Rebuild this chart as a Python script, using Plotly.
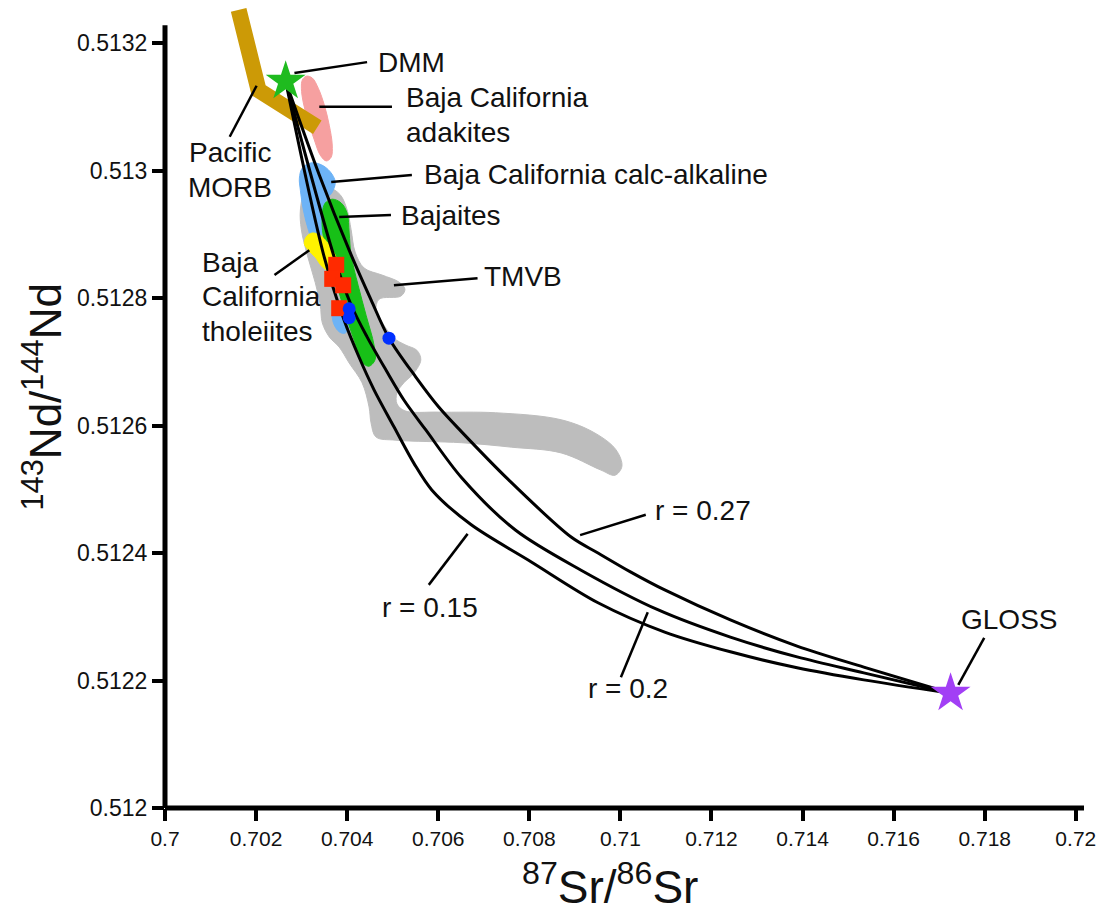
import plotly.graph_objects as go

# ---- end members -------------------------------------------------------
dmm_sr, dmm_nd = 0.70265, 0.51314
gloss_sr, gloss_nd = 0.71725, 0.51218

# ---- DMM–GLOSS mixing hyperbolae (87Sr/86Sr, 143Nd/144Nd) --------------
mix_r015_sr = [0.70265, 0.703497, 0.703934, 0.704262, 0.70459, 0.705027, 0.705464, 0.705858,
               0.70671, 0.708044, 0.709508, 0.710973, 0.712415, 0.71388, 0.715344, 0.71725]
mix_r015_nd = [0.51314, 0.512864, 0.512765, 0.512707, 0.512656, 0.512598, 0.512541, 0.512499,
               0.512445, 0.512386, 0.512322, 0.512276, 0.512245, 0.51222, 0.512201, 0.51218]

mix_r020_sr = [0.70265, 0.703716, 0.704087, 0.704437, 0.704852, 0.705246, 0.705727, 0.706514,
               0.707694, 0.709137, 0.71082, 0.712415, 0.71388, 0.715344, 0.71725]
mix_r020_nd = [0.51314, 0.512864, 0.512789, 0.512739, 0.512687, 0.51264, 0.512593, 0.512518,
               0.512436, 0.512373, 0.512311, 0.512268, 0.512237, 0.512212, 0.51218]

mix_r027_sr = [0.70265, 0.703388, 0.704044, 0.704525, 0.704918, 0.705508, 0.706011, 0.706514,
               0.707541, 0.708918, 0.709508, 0.71023, 0.710973, 0.712415, 0.71388, 0.715344, 0.71725]
mix_r027_nd = [0.51314, 0.512993, 0.512875, 0.512797, 0.512737, 0.512676, 0.512629, 0.51259,
               0.512515, 0.512425, 0.5124, 0.51237, 0.512342, 0.512295, 0.512254, 0.512221, 0.51218]

# ---- compositional fields ---------------------------------------------
morb_sr = [0.701617, 0.702055, 0.703344]
morb_nd = [0.513252, 0.513126, 0.513068]

tmvb_sr = [0.70306, 0.703344, 0.703607, 0.703847, 0.704, 0.704087, 0.704175, 0.704372, 0.704765,
           0.705137, 0.705268, 0.70518, 0.704699, 0.704634, 0.704765, 0.705027, 0.70529, 0.70553,
           0.705617, 0.705464, 0.705246, 0.705093, 0.705093, 0.705268, 0.706011, 0.707257, 0.708699,
           0.709443, 0.709902, 0.710033, 0.70988, 0.709574, 0.708699, 0.707607, 0.706514, 0.705071,
           0.704634, 0.704525, 0.704481, 0.704328, 0.704044, 0.703825, 0.703607, 0.703454, 0.70341,
           0.7033, 0.703126, 0.702995, 0.702973]
tmvb_nd = [0.512962, 0.512971, 0.512973, 0.512962, 0.512938, 0.512907, 0.512872, 0.512847, 0.512836,
           0.512825, 0.512814, 0.512803, 0.512798, 0.51278, 0.512762, 0.512737, 0.512726, 0.512718,
           0.512703, 0.512682, 0.512667, 0.512651, 0.512634, 0.512623, 0.512621, 0.51262, 0.512609,
           0.512588, 0.512562, 0.512536, 0.512522, 0.51253, 0.512557, 0.512566, 0.512573, 0.512577,
           0.512582, 0.512604, 0.512629, 0.512667, 0.512698, 0.512723, 0.512739, 0.512761, 0.512789,
           0.512824, 0.512867, 0.512907, 0.512938]

calc_alk_sr = [0.703016, 0.703213, 0.703432, 0.703628, 0.703738, 0.703672, 0.703541, 0.703475,
               0.703432, 0.703279, 0.703148, 0.703038, 0.702973, 0.702951]
calc_alk_nd = [0.513004, 0.513012, 0.513009, 0.512998, 0.512982, 0.512966, 0.512954, 0.51293,
               0.512899, 0.512883, 0.512907, 0.512938, 0.512969, 0.512988]

calc_alk2_sr = [0.703694, 0.704, 0.704087, 0.703956, 0.703825, 0.703694]
calc_alk2_nd = [0.512781, 0.512784, 0.512765, 0.512745, 0.512747, 0.512762]

bajaite_sr = [0.703672, 0.703869, 0.704, 0.704044, 0.704087, 0.70424, 0.704415, 0.70459, 0.704612,
              0.704481, 0.70435, 0.704153, 0.703934, 0.70376, 0.703607, 0.703475, 0.703454, 0.703519]
bajaite_nd = [0.512955, 0.512949, 0.512933, 0.512902, 0.512867, 0.51282, 0.512773, 0.512726, 0.512703,
              0.512693, 0.512698, 0.512734, 0.512781, 0.512825, 0.512863, 0.512897, 0.512933, 0.512949]

tholeiite_sr = [0.703104, 0.703235, 0.703432, 0.70365, 0.70376, 0.703628, 0.703454, 0.7033,
                0.703148, 0.70306]
tholeiite_nd = [0.512896, 0.512902, 0.512897, 0.512878, 0.51286, 0.512842, 0.512849, 0.512864,
                0.512875, 0.512885]

adakite_sr = [0.703104, 0.703235, 0.703366, 0.703497, 0.703607, 0.703672, 0.70365, 0.703541,
              0.70341, 0.703279, 0.703148, 0.703038, 0.702995, 0.703016]
adakite_nd = [0.513148, 0.513145, 0.513129, 0.513103, 0.513071, 0.51304, 0.513021, 0.513015,
              0.513024, 0.513048, 0.513076, 0.513106, 0.513129, 0.513142]

# ---- individual samples ------------------------------------------------
red_sr = [0.70376, 0.703672, 0.703913, 0.703825]
red_nd = [0.512852, 0.51283, 0.51282, 0.512784]
blue_sr = [0.704044, 0.704044, 0.704918]
blue_nd = [0.512783, 0.512769, 0.512737]

# ---- axes --------------------------------------------------------------
x_min, x_max = 0.7, 0.72018
y_min, y_max = 0.512, 0.5132596
y_axis_top = 0.513228
x_ticks = [0.7, 0.702, 0.704, 0.706, 0.708, 0.71, 0.712, 0.714, 0.716, 0.718, 0.72]
x_tick_text = ["0.7", "0.702", "0.704", "0.706", "0.708", "0.71", "0.712", "0.714", "0.716", "0.718", "0.72"]
y_ticks = [0.512, 0.5122, 0.5124, 0.5126, 0.5128, 0.513, 0.5132]
y_tick_text = ["0.512", "0.5122", "0.5124", "0.5126", "0.5128", "0.513", "0.5132"]

SANS = "Liberation Sans, Arial, sans-serif"
LABEL_FONT = dict(family=SANS, size=28, color="#111111")

fig = go.Figure()


def field(xs, ys, color):
    fig.add_trace(go.Scatter(x=xs + xs[:1], y=ys + ys[:1], mode="lines", fill="toself",
                             fillcolor=color, line=dict(color=color, width=1, shape="spline", smoothing=1.0),
                             hoverinfo="skip", showlegend=False))


field(tmvb_sr, tmvb_nd, "#bdbdbd")
field(calc_alk_sr, calc_alk_nd, "#6db3f6")
field(calc_alk2_sr, calc_alk2_nd, "#6db3f6")
field(bajaite_sr, bajaite_nd, "#17c017")
field(tholeiite_sr, tholeiite_nd, "#fff200")
field(adakite_sr, adakite_nd, "#f6a0a0")

# Pacific MORB array
fig.add_trace(go.Scatter(x=morb_sr, y=morb_nd, mode="lines",
                         line=dict(color="#cc9a06", width=16), hoverinfo="skip", showlegend=False))

# mixing curves
for xs, ys in [(mix_r015_sr, mix_r015_nd), (mix_r020_sr, mix_r020_nd), (mix_r027_sr, mix_r027_nd)]:
    fig.add_trace(go.Scatter(x=xs, y=ys, mode="lines",
                             line=dict(color="black", width=3, shape="spline", smoothing=0.9),
                             hoverinfo="skip", showlegend=False))

# leader lines: (x0, y0, x1, y1)
leaders = [
    (0.702842, 0.513153, 0.704437, 0.51317),   # DMM
    (0.703388, 0.5131, 0.704984, 0.5131),      # adakites
    (0.70365, 0.512982, 0.705421, 0.512993),   # calc-alkaline
    (0.703825, 0.512927, 0.704962, 0.51293),   # Bajaites
    (0.705027, 0.51282, 0.706863, 0.512831),   # TMVB
    (0.701421, 0.513053, 0.702011, 0.513133),  # Pacific MORB
    (0.702404, 0.512836, 0.703169, 0.512875),  # tholeiites
    (0.709115, 0.512428, 0.710557, 0.51246),   # r = 0.27
    (0.706645, 0.51243, 0.705792, 0.51235),    # r = 0.15
    (0.710601, 0.512307, 0.710011, 0.512205),  # r = 0.2
    (0.717989, 0.512267, 0.71742, 0.512193),   # GLOSS
]
for x0, y0, x1, y1 in leaders:
    fig.add_trace(go.Scatter(x=[x0, x1], y=[y0, y1], mode="lines",
                             line=dict(color="black", width=2.5), hoverinfo="skip", showlegend=False))

fig.add_trace(go.Scatter(x=red_sr, y=red_nd, mode="markers",
                         marker=dict(symbol="square", size=16, color="#ff2a00", line=dict(width=0)),
                         hoverinfo="skip", showlegend=False))
fig.add_trace(go.Scatter(x=blue_sr, y=blue_nd, mode="markers",
                         marker=dict(symbol="circle", size=13, color="#0030ff", line=dict(width=0)),
                         hoverinfo="skip", showlegend=False))
fig.add_trace(go.Scatter(x=[dmm_sr], y=[dmm_nd], mode="markers",
                         marker=dict(symbol="star", size=30, color="#1fbb1f", line=dict(width=0)),
                         hoverinfo="skip", showlegend=False))
fig.add_trace(go.Scatter(x=[gloss_sr], y=[gloss_nd], mode="markers",
                         marker=dict(symbol="star", size=30, color="#a23ff5", line=dict(width=0)),
                         hoverinfo="skip", showlegend=False))

# text labels: (x, y, text, anchor)
labels = [
    (0.704634, 0.51317, "DMM", "left"),
    (0.705246, 0.513114, "Baja California", "left"),
    (0.705246, 0.513059, "adakites", "left"),
    (0.705639, 0.512993, "Baja California calc-alkaline", "left"),
    (0.705137, 0.51293, "Bajaites", "left"),
    (0.706951, 0.512833, "TMVB", "left"),
    (0.701421, 0.513029, "Pacific", "center"),
    (0.701421, 0.512974, "MORB", "center"),
    (0.700765, 0.512855, "Baja", "left"),
    (0.700765, 0.512802, "California", "left"),
    (0.700765, 0.512747, "tholeiites", "left"),
    (0.71071, 0.512467, "r = 0.27", "left"),
    (0.704721, 0.512315, "r = 0.15", "left"),
    (0.709246, 0.512188, "r = 0.2", "left"),
    (0.717443, 0.512295, "GLOSS", "left"),
]
annotations = [dict(x=x, y=y, xref="x", yref="y", text=t, showarrow=False,
                    xanchor=a, yanchor="middle", font=LABEL_FONT) for x, y, t, a in labels]

# axis titles
annotations.append(dict(x=0.484, y=(808 - 884) / 803, xref="paper", yref="paper",
                        text="<sup>87</sup>Sr/<sup>86</sup>Sr", showarrow=False,
                        xanchor="center", yanchor="middle",
                        font=dict(family=SANS, size=46, color="#111111")))
annotations.append(dict(x=-(165 - 42) / 923, y=(808 - 397) / 803, xref="paper", yref="paper",
                        text="<sup>143</sup>Nd/<sup>144</sup>Nd", showarrow=False, textangle=-90,
                        xanchor="center", yanchor="middle",
                        font=dict(family=SANS, size=44, color="#111111")))

y_top_frac = (y_axis_top - y_min) / (y_max - y_min)
shapes = [
    dict(type="line", xref="paper", yref="paper", x0=0, x1=1, y0=0, y1=0,
         line=dict(color="black", width=5)),
    dict(type="line", xref="paper", yref="paper", x0=0, x1=0, y0=0, y1=y_top_frac,
         line=dict(color="black", width=5)),
]

fig.update_layout(
    width=1101, height=913,
    margin=dict(l=165, r=13, t=5, b=105),
    paper_bgcolor="white", plot_bgcolor="white",
    showlegend=False,
    annotations=annotations,
    shapes=shapes,
    xaxis=dict(range=[x_min, x_max], tickvals=x_ticks, ticktext=x_tick_text,
               ticks="outside", ticklen=12, tickwidth=4, tickcolor="black",
               showline=False, showgrid=False, zeroline=False, ticklabeloverflow="allow",
               tickfont=dict(family=SANS, size=21, color="#111111")),
    yaxis=dict(range=[y_min, y_max], tickvals=y_ticks, ticktext=y_tick_text,
               ticks="outside", ticklen=12, tickwidth=4, tickcolor="black",
               showline=False, showgrid=False, zeroline=False,
               tickfont=dict(family=SANS, size=23, color="#111111")),
)

fig.write_html("out.html")
